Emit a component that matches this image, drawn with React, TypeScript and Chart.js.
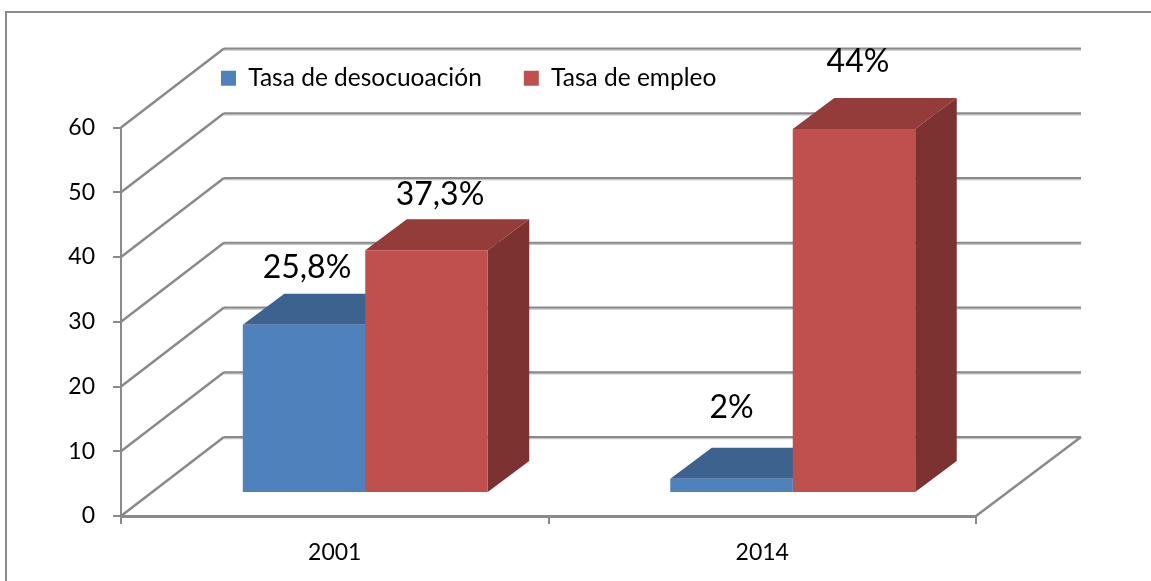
import React, { useEffect, useRef } from "react";
import { Chart, registerables } from "chart.js";

Chart.register(...registerables);

const categories = ["2001", "2014"];
const desempleo = [26, 2.2];
const empleo = [37.5, 56.2];
const desempleoLabels = ["25,8%", "2%"];
const empleoLabels = ["37,3%", "44%"];
const seriesNames = ["Tasa de desocuoación", "Tasa de empleo"];
const FONT = "Lato, 'Open Sans', sans-serif";

const WALL = { dx: 103, dy: -79 };
const BAR = { dx: 30.5, dy: -23 };
const DEPTH = { dx: 41.5, dy: -31 };
const LABEL_NUDGE = [
  [{ x: 3, y: -47 }, { x: 0, y: -61 }],
  [{ x: 13.5, y: -45 }, { x: 4, y: -57 }],
];

function shade(ctx: CanvasRenderingContext2D, pts: number[][], color: string) {
  ctx.fillStyle = color;
  ctx.beginPath();
  pts.forEach((p, i) => (i ? ctx.lineTo(p[0], p[1]) : ctx.moveTo(p[0], p[1])));
  ctx.closePath();
  ctx.fill();
}

const faces = [
  { top: "#3c6390", side: "#2f4f75" },
  { top: "#943c39", side: "#7b3230" },
];

const chart3d = {
  id: "chart3d",
  beforeDraw(chart: any) {
    const { ctx } = chart;
    const y = chart.scales.y;
    const { left, right } = chart.chartArea;
    const zero = y.getPixelForValue(0);
    ctx.save();
    ctx.strokeStyle = "#8c8c8c";
    ctx.lineWidth = 2;
    ctx.beginPath();
    ctx.moveTo(6, 581);
    ctx.lineTo(6, 12);
    ctx.lineTo(1151, 12);
    ctx.stroke();
    for (const v of y.ticks.map((t: any) => t.value)) {
      const p = y.getPixelForValue(v);
      ctx.strokeStyle = "#c4c4c4";
      ctx.lineWidth = 1.5;
      ctx.beginPath();
      ctx.moveTo(left + WALL.dx, p + WALL.dy + 1.5);
      ctx.lineTo(right + WALL.dx + 2, p + WALL.dy + 1.5);
      ctx.stroke();
      ctx.strokeStyle = "#8a8a8a";
      ctx.lineWidth = 2;
      ctx.beginPath();
      ctx.moveTo(left + WALL.dx, p + WALL.dy);
      ctx.lineTo(right + WALL.dx + 2, p + WALL.dy);
      ctx.stroke();
      ctx.lineWidth = 2.5;
      ctx.beginPath();
      ctx.moveTo(left, p);
      ctx.lineTo(left + WALL.dx, p + WALL.dy);
      ctx.stroke();
    }
    ctx.lineWidth = 2.5;
    ctx.beginPath();
    ctx.moveTo(right, zero);
    ctx.lineTo(right + WALL.dx + 2, zero + WALL.dy);
    ctx.stroke();
    ctx.restore();
  },
  beforeDatasetsDraw(chart: any) {
    const { ctx } = chart;
    ctx.save();
    ctx.translate(BAR.dx, BAR.dy);
    faces.forEach((c, ds) => {
      chart.getDatasetMeta(ds).data.forEach((bar: any) => {
        const l = bar.x - bar.width / 2;
        const r = bar.x + bar.width / 2;
        const t = bar.y;
        const b = bar.base;
        const { dx, dy } = DEPTH;
        shade(ctx, [[l, t], [l + dx, t + dy], [r + dx, t + dy], [r, t]], c.top);
        shade(ctx, [[r, t], [r + dx, t + dy], [r + dx, b + dy], [r, b]], c.side);
      });
    });
    ctx.restore();
  },
  beforeDatasetDraw(chart: any) {
    chart.ctx.save();
    chart.ctx.translate(BAR.dx, BAR.dy);
  },
  afterDatasetDraw(chart: any) {
    chart.ctx.restore();
  },
  afterDatasetsDraw(chart: any) {
    const { ctx } = chart;
    ctx.save();
    ctx.fillStyle = "#000";
    ctx.font = `32px ${FONT}`;
    ctx.textAlign = "center";
    ctx.textBaseline = "alphabetic";
    [desempleoLabels, empleoLabels].forEach((set, ds) => {
      const meta = chart.getDatasetMeta(ds);
      set.forEach((text, i) => {
        const bar: any = meta.data[i];
        const n = LABEL_NUDGE[ds][i];
        ctx.fillText(text, bar.x + BAR.dx + n.x, bar.y + BAR.dy + n.y);
      });
    });
    ctx.restore();
  },
  afterLayout(chart: any) {
    const lg = chart.legend;
    lg.left = 179;
    lg.right = 900;
    lg.top = 24;
  },
};

export default function App() {
  const ref = useRef<HTMLCanvasElement>(null);
  useEffect(() => {
    const chart = new Chart(ref.current as HTMLCanvasElement, {
      type: "bar",
      data: {
        labels: categories,
        datasets: [
          { label: seriesNames[0], data: desempleo, backgroundColor: "#4f81bd", clip: false } as any,
          { label: seriesNames[1], data: empleo, backgroundColor: "#c0504d", clip: false } as any,
        ],
      },
      plugins: [chart3d as any],
      options: {
        responsive: false,
        animation: false,
        layout: { padding: { left: 0, right: 175, top: 51, bottom: 0 }, autoPadding: false } as any,
        datasets: { bar: { categoryPercentage: 0.573, barPercentage: 1 } },
        scales: {
          x: {
            afterFit(s: any) { s.height = 65; },
            grid: { drawOnChartArea: false, drawTicks: true, tickLength: 8, color: "#8a8a8a", lineWidth: 2, offset: true },
            border: { color: "#8a8a8a", width: 3 },
            ticks: { color: "#000", padding: 15, maxRotation: 0, font: { family: FONT, size: 23 } },
          },
          y: {
            min: 0,
            max: 60,
            afterFit(s: any) { s.width = 121; },
            grid: { drawOnChartArea: false, drawTicks: true, tickLength: 8, color: "#8a8a8a", lineWidth: 2 },
            border: { color: "#8a8a8a", width: 2 },
            ticks: { color: "#000", stepSize: 10, padding: 18, font: { family: FONT, size: 23 } },
          },
        },
        plugins: {
          title: { display: false },
          tooltip: { enabled: false },
          legend: {
            display: true,
            position: "top",
            align: "start",
            labels: { boxWidth: 15, boxHeight: 15, color: "#000", padding: 42, font: { family: FONT, size: 24.5 } },
          },
        },
      },
    });
    return () => chart.destroy();
  }, []);
  return (
    <canvas
      ref={ref}
      width={1151}
      height={581}
      style={{ position: "absolute", left: 0, top: 0, width: 1151, height: 581, background: "#fff" }}
    />
  );
}
